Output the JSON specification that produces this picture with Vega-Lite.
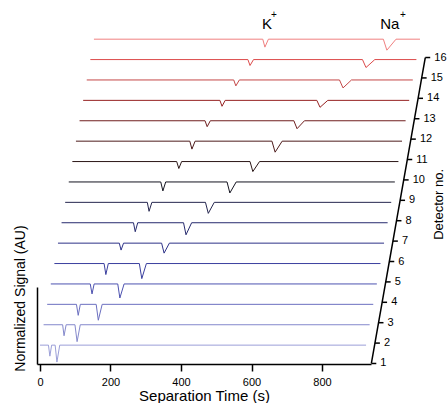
{
  "$schema": "https://vega.github.io/schema/vega-lite/v6.json",
  "width": 334,
  "height": 77,
  "autosize": {"type": "none"},
  "padding": {"left": 37, "top": 287, "right": 77, "bottom": 39},
  "background": "white",
  "config": {
    "view": {"stroke": null},
    "font": "Liberation Sans",
    "text": {"font": "Liberation Sans", "color": "black"}
  },
  "datasets": {
    "traces": [
      {"d":1,"t":0,"s":0.9},{"d":1,"t":24,"s":0.9},{"d":1,"t":28,"s":0.36},{"d":1,"t":33,"s":0.9},{"d":1,"t":43,"s":0.9},{"d":1,"t":48,"s":0.07},{"d":1,"t":56,"s":0.9},{"d":1,"t":925,"s":0.9},
      {"d":2,"t":0,"s":0.9},{"d":2,"t":54,"s":0.9},{"d":2,"t":58,"s":0.36},{"d":2,"t":64,"s":0.9},{"d":2,"t":89,"s":0.9},{"d":2,"t":95,"s":0.07},{"d":2,"t":104,"s":0.9},{"d":2,"t":925,"s":0.9},
      {"d":3,"t":0,"s":0.9},{"d":3,"t":83,"s":0.9},{"d":3,"t":88,"s":0.36},{"d":3,"t":94,"s":0.9},{"d":3,"t":139,"s":0.9},{"d":3,"t":145,"s":0.12},{"d":3,"t":156,"s":0.9},{"d":3,"t":925,"s":0.9},
      {"d":4,"t":0,"s":0.9},{"d":4,"t":112,"s":0.9},{"d":4,"t":117,"s":0.41},{"d":4,"t":123,"s":0.9},{"d":4,"t":190,"s":0.9},{"d":4,"t":196,"s":0.21},{"d":4,"t":208,"s":0.9},{"d":4,"t":925,"s":0.9},
      {"d":5,"t":0,"s":0.9},{"d":5,"t":141,"s":0.9},{"d":5,"t":146,"s":0.36},{"d":5,"t":153,"s":0.9},{"d":5,"t":241,"s":0.9},{"d":5,"t":248,"s":0.16},{"d":5,"t":261,"s":0.9},{"d":5,"t":925,"s":0.9},
      {"d":6,"t":0,"s":0.9},{"d":6,"t":174,"s":0.9},{"d":6,"t":179,"s":0.56},{"d":6,"t":186,"s":0.9},{"d":6,"t":294,"s":0.9},{"d":6,"t":301,"s":0.41},{"d":6,"t":316,"s":0.9},{"d":6,"t":925,"s":0.9},
      {"d":7,"t":0,"s":0.9},{"d":7,"t":204,"s":0.9},{"d":7,"t":209,"s":0.46},{"d":7,"t":216,"s":0.9},{"d":7,"t":346,"s":0.9},{"d":7,"t":353,"s":0.31},{"d":7,"t":369,"s":0.9},{"d":7,"t":925,"s":0.9},
      {"d":8,"t":0,"s":0.9},{"d":8,"t":233,"s":0.9},{"d":8,"t":238,"s":0.46},{"d":8,"t":246,"s":0.9},{"d":8,"t":398,"s":0.9},{"d":8,"t":406,"s":0.36},{"d":8,"t":423,"s":0.9},{"d":8,"t":925,"s":0.9},
      {"d":9,"t":0,"s":0.9},{"d":9,"t":261,"s":0.9},{"d":9,"t":267,"s":0.46},{"d":9,"t":275,"s":0.9},{"d":9,"t":449,"s":0.9},{"d":9,"t":457,"s":0.36},{"d":9,"t":475,"s":0.9},{"d":9,"t":925,"s":0.9},
      {"d":10,"t":0,"s":0.9},{"d":10,"t":296,"s":0.9},{"d":10,"t":302,"s":0.56},{"d":10,"t":310,"s":0.9},{"d":10,"t":504,"s":0.9},{"d":10,"t":512,"s":0.41},{"d":10,"t":531,"s":0.9},{"d":10,"t":925,"s":0.9},
      {"d":11,"t":0,"s":0.9},{"d":11,"t":323,"s":0.9},{"d":11,"t":329,"s":0.51},{"d":11,"t":338,"s":0.9},{"d":11,"t":556,"s":0.9},{"d":11,"t":565,"s":0.36},{"d":11,"t":585,"s":0.9},{"d":11,"t":925,"s":0.9},
      {"d":12,"t":0,"s":0.9},{"d":12,"t":356,"s":0.9},{"d":12,"t":362,"s":0.61},{"d":12,"t":371,"s":0.9},{"d":12,"t":608,"s":0.9},{"d":12,"t":617,"s":0.51},{"d":12,"t":638,"s":0.9},{"d":12,"t":925,"s":0.9},
      {"d":13,"t":0,"s":0.9},{"d":13,"t":388,"s":0.9},{"d":13,"t":394,"s":0.61},{"d":13,"t":403,"s":0.9},{"d":13,"t":663,"s":0.9},{"d":13,"t":672,"s":0.56},{"d":13,"t":694,"s":0.9},{"d":13,"t":925,"s":0.9},
      {"d":14,"t":0,"s":0.9},{"d":14,"t":417,"s":0.9},{"d":14,"t":423,"s":0.61},{"d":14,"t":433,"s":0.9},{"d":14,"t":717,"s":0.9},{"d":14,"t":727,"s":0.51},{"d":14,"t":751,"s":0.9},{"d":14,"t":925,"s":0.9},
      {"d":15,"t":0,"s":0.9},{"d":15,"t":447,"s":0.9},{"d":15,"t":453,"s":0.61},{"d":15,"t":463,"s":0.9},{"d":15,"t":772,"s":0.9},{"d":15,"t":782,"s":0.51},{"d":15,"t":807,"s":0.9},{"d":15,"t":925,"s":0.9},
      {"d":16,"t":0,"s":0.9},{"d":16,"t":479,"s":0.9},{"d":16,"t":485,"s":0.51},{"d":16,"t":495,"s":0.9},{"d":16,"t":821,"s":0.9},{"d":16,"t":831,"s":0.36},{"d":16,"t":857,"s":0.9},{"d":16,"t":925,"s":0.9}
    ],
    "detectors": [{"d":1},{"d":2},{"d":3},{"d":4},{"d":5},{"d":6},{"d":7},{"d":8},{"d":9},{"d":10},{"d":11},{"d":12},{"d":13},{"d":14},{"d":15},{"d":16}],
    "ions": [{"ion":"K","d":16,"t":485},{"ion":"Na","d":16,"t":831}],
    "dettitle": [{"label":"Detector no.","d":8.8}]
  },
  "encoding": {
    "x": {
      "field": "xd", "type": "quantitative",
      "scale": {"domain": [-8.5, 939], "nice": false, "zero": false},
      "axis": {
        "values": [0, 200, 400, 600, 800], "title": "Separation Time (s)", "grid": false,
        "domainColor": "black", "domainWidth": 1.5, "tickColor": "black", "tickWidth": 1.5, "tickSize": 7,
        "labelFontSize": 11, "labelColor": "black", "labelPadding": 5, "labelFont": "Liberation Sans",
        "titleFontSize": 15, "titleFontWeight": "normal", "titleColor": "black", "titlePadding": 1, "titleFont": "Liberation Sans"
      }
    },
    "y": {
      "field": "yd", "type": "quantitative",
      "scale": {"domain": [-0.025, 3.75], "nice": false, "zero": false},
      "axis": {
        "title": "Normalized Signal (AU)", "ticks": false, "labels": false, "grid": false,
        "domainColor": "black", "domainWidth": 1.5,
        "titleFontSize": 14, "titleFontWeight": "normal", "titleColor": "black", "titlePadding": 10, "titleY": 11, "titleFont": "Liberation Sans"
      }
    }
  },
  "layer": [
    {
      "data": {"name": "traces"},
      "transform": [
        {"calculate": "datum.t + 10.2 * (datum.d - 1)", "as": "xd"},
        {"calculate": "datum.s + datum.d - 1", "as": "yd"}
      ],
      "mark": {"type": "line", "strokeWidth": 1, "clip": false},
      "encoding": {
        "color": {
          "field": "d", "type": "ordinal", "legend": null,
          "scale": {
            "domain": [1,2,3,4,5,6,7,8,9,10,11,12,13,14,15,16],
            "range": ["#9b9fd8","#8589cc","#6b6fc0","#4d52b0","#3a3f9e","#2d3288","#262a6e","#25264f","#141420","#2a1616","#4e1c1c","#701f1f","#962222","#c44848","#dc4a4a","#f08080"]
          }
        }
      }
    },
    {
      "data": {"name": "detectors"},
      "transform": [
        {"calculate": "940 + 10.2 * (datum.d - 1)", "as": "xd"},
        {"calculate": "datum.d - 1", "as": "yd"}
      ],
      "mark": {"type": "line", "color": "black", "strokeWidth": 1.5, "clip": false},
      "encoding": {}
    },
    {
      "data": {"name": "detectors"},
      "transform": [
        {"calculate": "940 + 10.2 * (datum.d - 1)", "as": "xd"},
        {"calculate": "datum.xd + 14", "as": "xd2"},
        {"calculate": "datum.d - 1", "as": "yd"}
      ],
      "mark": {"type": "rule", "color": "black", "strokeWidth": 1.5, "clip": false},
      "encoding": {"x2": {"field": "xd2"}}
    },
    {
      "data": {"name": "detectors"},
      "transform": [
        {"calculate": "940 + 10.2 * (datum.d - 1)", "as": "xd"},
        {"calculate": "datum.d - 1", "as": "yd"}
      ],
      "mark": {"type": "text", "align": "left", "baseline": "middle", "dx": 9, "fontSize": 11, "clip": false},
      "encoding": {"text": {"field": "d", "type": "quantitative"}}
    },
    {
      "data": {"name": "dettitle"},
      "transform": [
        {"calculate": "940 + 10.2 * (datum.d - 1)", "as": "xd"},
        {"calculate": "datum.d - 1", "as": "yd"}
      ],
      "mark": {"type": "text", "angle": 270, "align": "center", "baseline": "middle", "dy": 40, "fontSize": 13, "clip": false},
      "encoding": {"text": {"field": "label", "type": "nominal"}}
    },
    {
      "data": {"name": "ions"},
      "transform": [
        {"filter": "datum.ion == 'K'"},
        {"calculate": "datum.t + 10.2 * (datum.d - 1)", "as": "xd"},
        {"calculate": "datum.d + 0.4", "as": "yd"}
      ],
      "mark": {"type": "text", "align": "center", "baseline": "alphabetic", "dx": 2, "fontSize": 15, "clip": false},
      "encoding": {"text": {"field": "ion", "type": "nominal"}}
    },
    {
      "data": {"name": "ions"},
      "transform": [
        {"filter": "datum.ion == 'K'"},
        {"calculate": "datum.t + 10.2 * (datum.d - 1)", "as": "xd"},
        {"calculate": "datum.d + 0.4", "as": "yd"}
      ],
      "mark": {"type": "text", "align": "center", "baseline": "middle", "dx": 9, "dy": -14, "fontSize": 10, "clip": false},
      "encoding": {"text": {"value": "+"}}
    },
    {
      "data": {"name": "ions"},
      "transform": [
        {"filter": "datum.ion == 'Na'"},
        {"calculate": "datum.t + 10.2 * (datum.d - 1)", "as": "xd"},
        {"calculate": "datum.d + 0.4", "as": "yd"}
      ],
      "mark": {"type": "text", "align": "center", "baseline": "alphabetic", "dx": 3, "fontSize": 15, "clip": false},
      "encoding": {"text": {"field": "ion", "type": "nominal"}}
    },
    {
      "data": {"name": "ions"},
      "transform": [
        {"filter": "datum.ion == 'Na'"},
        {"calculate": "datum.t + 10.2 * (datum.d - 1)", "as": "xd"},
        {"calculate": "datum.d + 0.4", "as": "yd"}
      ],
      "mark": {"type": "text", "align": "center", "baseline": "middle", "dx": 16, "dy": -14, "fontSize": 10, "clip": false},
      "encoding": {"text": {"value": "+"}}
    }
  ]
}
